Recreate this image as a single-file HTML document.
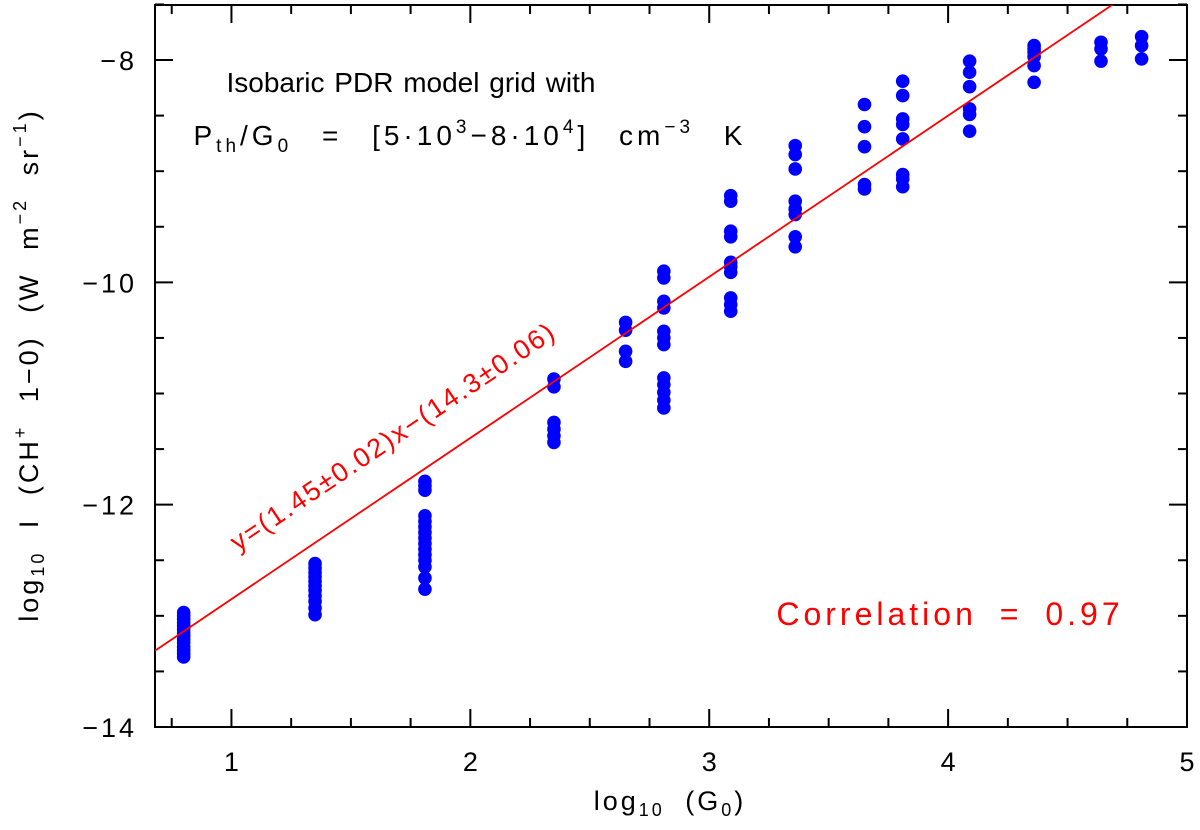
<!DOCTYPE html>
<html><head><meta charset="utf-8"><style>
body{margin:0;background:#fff}
svg{display:block;font-family:"Liberation Sans","DejaVu Sans",sans-serif}
</style></head><body>
<svg id="c" width="1200" height="830" viewBox="0 0 1200 830"></svg>
<script>
const xCats=[0.8,1.35,1.81,2.35,2.65,2.81,3.09,3.36,3.65,3.81,4.09,4.36,4.64,4.81];
const yVals=[
[-12.97,-13.0,-13.03,-13.06,-13.09,-13.12,-13.15,-13.18,-13.21,-13.24,-13.28,-13.31,-13.34,-13.37],
[-12.53,-12.57,-12.61,-12.65,-12.69,-12.73,-12.77,-12.82,-12.87,-12.93,-12.99],
[-11.79,-11.83,-11.87,-12.10,-12.15,-12.20,-12.25,-12.30,-12.35,-12.40,-12.45,-12.50,-12.56,-12.66,-12.76],
[-10.87,-10.94,-11.26,-11.32,-11.38,-11.44],
[-10.36,-10.43,-10.62,-10.71],
[-9.90,-9.96,-10.17,-10.23,-10.44,-10.50,-10.56,-10.86,-10.92,-10.99,-11.06,-11.13],
[-9.22,-9.27,-9.54,-9.59,-9.82,-9.86,-9.91,-10.14,-10.20,-10.26],
[-8.77,-8.85,-8.98,-9.27,-9.34,-9.39,-9.59,-9.68],
[-8.40,-8.60,-8.78,-9.12,-9.16],
[-8.19,-8.32,-8.53,-8.58,-8.71,-9.03,-9.07,-9.14],
[-8.01,-8.11,-8.24,-8.44,-8.49,-8.64],
[-7.87,-7.90,-7.93,-7.97,-8.05,-8.20],
[-7.84,-7.90,-8.01],
[-7.79,-7.87,-7.99]];
const fitSlope=1.45, fitIntercept=-14.3;
const xTicks=[1,2,3,4,5];
const yTicks=[-8,-10,-12,-14];
const XMIN=0.68,XMAX=5,YMIN=-14,YMAX=-7.505;
const L=155,R=1187,T=5,B=727;
const sx=v=>L+(v-XMIN)/(XMAX-XMIN)*(R-L);
const sy=v=>B-(v-YMIN)/(YMAX-YMIN)*(B-T);
const svg=document.getElementById('c');
const NS='http://www.w3.org/2000/svg';
function mk(t,a,p){const e=document.createElementNS(NS,t);for(const k in a)e.setAttribute(k,a[k]);(p||svg).appendChild(e);return e;}
let fr=mk('rect',{x:L,y:T,width:R-L,height:B-T,fill:'none',stroke:'#000','stroke-width':2});


for(let v=0.75;v<=5.001;v+=0.25){const X=sx(v);const maj=Math.abs(v-Math.round(v))<1e-6;const len=maj?18:9;
 const t1=mk('line',{x1:X,x2:X,y1:B,y2:B-len,stroke:'#000','stroke-width':2});
 
 
 const t2=mk('line',{x1:X,x2:X,y1:T,y2:T+len,stroke:'#000','stroke-width':2});
 
 }
xTicks.forEach(v=>{const t=mk('text',{x:sx(v),y:B+44,'text-anchor':'middle','font-size':27});t.textContent=v;
 
 });
for(let v=-14;v<=-7.5;v+=0.5){const Y=sy(v);const maj=Math.abs(v/2-Math.round(v/2))<1e-6;const len=maj?18:9;
 const t1=mk('line',{x1:L,x2:L+len,y1:Y,y2:Y,stroke:'#000','stroke-width':2});
 
 
 const t2=mk('line',{x1:R,x2:R-len,y1:Y,y2:Y,stroke:'#000','stroke-width':2});
 
 }
yTicks.forEach(v=>{const t=mk('text',{x:L-18,y:sy(v)+10,'text-anchor':'end','font-size':27,'letter-spacing':3});t.textContent='\u2212'+Math.abs(v);
 
 });
const g=mk('g',{fill:'#0000ff'});
xCats.forEach((x,i)=>yVals[i].forEach(y=>{const c=mk('circle',{cx:sx(x),cy:sy(y),r:6.8},g);
 
 }));
const cl=mk('clipPath',{id:'clp'});mk('rect',{x:L,y:T,width:R-L,height:B-T},cl);
const fl=mk('line',{x1:sx(XMIN),y1:sy(fitSlope*XMIN+fitIntercept),x2:sx(XMAX),y2:sy(fitSlope*XMAX+fitIntercept),stroke:'#ff0000','stroke-width':1.8,'clip-path':'url(#clp)'});


</script>
<svg style="position:absolute;left:0;top:0" width="1200" height="830">
<text x="411" y="92" text-anchor="middle" font-size="28" letter-spacing="0" word-spacing="2" font-family="Liberation Sans, sans-serif">Isobaric PDR model grid with</text>
<text x="470" y="145" text-anchor="middle" font-size="28" letter-spacing="4" word-spacing="18" font-family="Liberation Sans, sans-serif">P<tspan font-size="19" dy="7">th</tspan><tspan dy="-7">/G</tspan><tspan font-size="19" dy="7">0</tspan><tspan dy="-7"> = [5·10</tspan><tspan font-size="19" dy="-12">3</tspan><tspan dy="12">−8·10</tspan><tspan font-size="19" dy="-12">4</tspan><tspan dy="12">] cm</tspan><tspan font-size="19" dy="-12">−3</tspan><tspan dy="12"> K</tspan></text>
<text x="950" y="625" text-anchor="middle" font-size="32" letter-spacing="4" word-spacing="10" fill="#ff0000" font-family="Liberation Sans, sans-serif">Correlation = 0.97</text>
<text transform="translate(398,444) rotate(-34)" text-anchor="middle" font-size="27" letter-spacing="2" fill="#ff0000" font-family="Liberation Sans, sans-serif">y=(1.45±0.02)x−(14.3±0.06)</text>
<text x="670" y="810" text-anchor="middle" font-size="27" letter-spacing="3" word-spacing="10" font-family="Liberation Sans, sans-serif">log<tspan font-size="18" dy="6">10</tspan><tspan dy="-6"> (G</tspan><tspan font-size="18" dy="6">0</tspan><tspan dy="-6">)</tspan></text>
<text transform="translate(38,365) rotate(-90)" text-anchor="middle" font-size="27" letter-spacing="3" word-spacing="12" font-family="Liberation Sans, sans-serif">log<tspan font-size="18" dy="6">10</tspan><tspan dy="-6"> I (CH</tspan><tspan font-size="18" dy="-12">+</tspan><tspan dy="12"> 1−0) (W m</tspan><tspan font-size="18" dy="-12">−2</tspan><tspan dy="12"> sr</tspan><tspan font-size="18" dy="-12">−1</tspan><tspan dy="12">)</tspan></text>
</svg>
</body></html>
